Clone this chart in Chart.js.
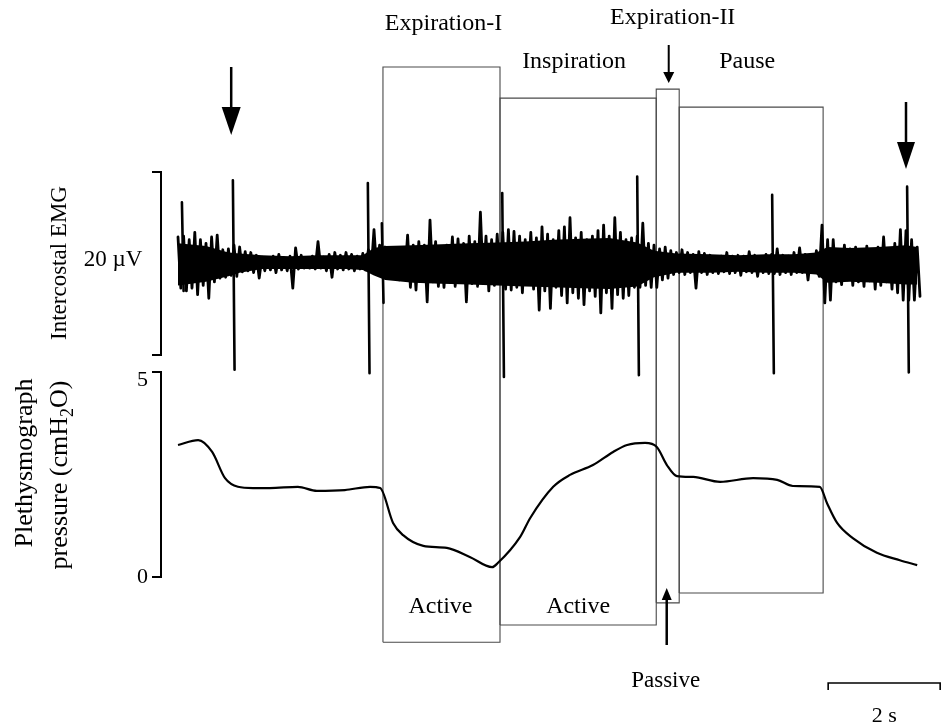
<!DOCTYPE html>
<html>
<head>
<meta charset="utf-8">
<script src="https://cdn.jsdelivr.net/npm/chart.js@4.4.1/dist/chart.umd.min.js"></script>
<style>
  html, body { margin: 0; padding: 0; background: #fff; }
  canvas { display: block; }
</style>
</head>
<body>
<canvas id="breathChart" width="944" height="725"></canvas>
<script>
// Intercostal EMG excursions, every 0.1 s (upper / lower tips, µV)
const EMG_STEP = 0.1;
const emgHigh = [
  2.9, 3.0, 2.6, 3.4, 2.6, 2.2, 2.9, 3.1, 1.5, 1.6,
  2.0, 1.8, 1.3, 1.2, 0.9, 0.7, 0.6, 0.8, 1.0, 0.6,
  0.8, 1.7, 0.9, 0.6, 0.8, 2.4, 0.7, 1.0, 1.2, 0.9,
  1.2, 1.0, 0.8, 1.1, 1.5, 3.7, 2.0, 1.8, 1.5, 1.5,
  1.3, 3.1, 2.0, 2.4, 2.0, 4.75, 2.4, 1.8, 2.0, 2.9,
  2.7, 2.2, 3.0, 2.4, 5.6, 3.0, 2.6, 3.2, 3.4, 3.7,
  3.5, 3.0, 2.6, 3.4, 2.8, 4.0, 3.2, 2.6, 3.6, 4.0,
  5.0, 2.8, 3.4, 2.6, 3.0, 3.6, 4.2, 3.0, 5.0, 3.4,
  2.6, 2.8, 3.0, 4.4, 2.2, 2.0, 1.6, 1.8, 1.4, 1.2,
  1.5, 1.2, 1.0, 1.3, 1.1, 0.9, 0.7, 0.8, 1.2, 0.8,
  0.9, 0.8, 1.3, 0.9, 0.7, 1.0, 1.0, 1.6, 0.9, 0.8,
  1.2, 1.7, 1.0, 0.9, 1.4, 4.2, 2.6, 2.6, 1.5, 2.0,
  1.6, 1.8, 1.4, 1.9, 1.5, 1.8, 2.9, 1.6, 2.2, 3.7,
  3.6, 2.6, 1.8
];
const emgLow = [
  -2.7, -3.0, -2.7, -3.4, -2.4, -3.8, -2.0, -1.6, -1.5, -1.3,
  -1.4, -0.9, -0.8, -1.0, -1.6, -0.8, -0.7, -1.0, -0.7, -0.8,
  -2.7, -0.6, -0.5, -0.5, -0.6, -0.5, -0.8, -1.5, -0.6, -0.7,
  -0.6, -0.8, -0.6, -0.7, -0.8, -1.0, -1.0, -1.5, -1.2, -1.8,
  -1.5, -2.6, -2.9, -1.8, -4.2, -2.0, -2.5, -2.6, -2.0, -2.5,
  -1.8, -4.2, -2.2, -2.5, -2.0, -3.0, -2.4, -2.0, -2.8, -2.9,
  -2.6, -3.2, -2.2, -2.8, -5.1, -3.0, -4.9, -2.6, -3.5, -4.3,
  -3.2, -3.8, -4.5, -3.0, -3.6, -5.4, -3.2, -4.9, -3.4, -3.8,
  -3.5, -2.6, -2.6, -2.4, -2.6, -2.6, -1.8, -1.6, -1.2, -1.0,
  -1.2, -1.0, -2.7, -1.0, -1.2, -1.0, -1.1, -0.9, -1.1, -1.0,
  -1.3, -0.9, -1.0, -1.4, -1.0, -1.1, -1.1, -1.2, -1.0, -1.2,
  -1.0, -1.0, -1.8, -1.0, -1.4, -4.3, -4.0, -2.0, -2.3, -1.8,
  -2.4, -2.0, -2.5, -1.9, -2.8, -2.4, -2.0, -2.8, -3.2, -4.0,
  -4.0, -4.0, -3.6
];

// solid core of the EMG band (s, µV)
const coreTime = [
  0, 0.5, 0.9, 1.1, 1.5, 2.0, 2.5, 3.0, 3.3, 3.5,
  3.7, 4.2, 4.7, 5.2, 5.7, 6.2, 6.7, 7.2, 7.7, 8.2,
  8.5, 8.9, 9.5, 10.0, 10.5, 11.0, 11.4, 11.6, 12.0, 12.5,
  13.0, 13.2
];
const coreHigh = [
  2.2, 1.9, 1.2, 1.1, 0.9, 0.8, 0.9, 0.9, 0.9, 1.7,
  1.9, 2.0, 2.1, 2.2, 2.3, 2.4, 2.6, 2.7, 2.8, 2.3,
  1.4, 1.1, 1.0, 0.9, 1.0, 1.0, 1.2, 1.8, 1.7, 1.8,
  2.0, 1.8
];
const coreLow = [
  -2.4, -2.0, -1.4, -1.0, -0.6, -0.6, -0.6, -0.6, -0.7, -1.3,
  -1.8, -2.1, -2.2, -2.3, -2.4, -2.5, -2.6, -2.7, -2.8, -2.5,
  -1.5, -1.0, -1.0, -0.9, -1.0, -1.0, -1.2, -2.1, -2.0, -2.1,
  -2.3, -2.3
];

// isolated EMG spikes (time s, peak and trough µV)
const spikeTime = [0.07, 0.98, 3.39, 3.64, 5.79, 8.20, 10.61, 13.02];
const spikeTop = [6.7, 9.1, 8.8, 4.4, 7.7, 9.5, 7.5, 8.4];
const spikeBottom = [-3.0, -11.6, -12.0, -4.3, -12.4, -12.2, -12.0, -11.9];

// Plethysmograph pressure (cmH2O) against time (s)
const pressTime = [
  0, 0.36, 0.61, 0.84, 1.07, 1.34, 1.64, 2.14, 2.48, 2.98,
  3.43, 3.61, 3.84, 4.02, 4.38, 4.80, 5.21, 5.61, 5.71, 6.11,
  6.29, 6.70, 7.00, 7.41, 7.77, 8.02, 8.34, 8.55, 8.73, 8.91,
  9.20, 9.68, 10.27, 10.70, 10.98, 11.46, 11.59, 11.77, 12.05, 12.48,
  12.89, 13.20
];
const pressValue = [
  3.22, 3.34, 3.05, 2.41, 2.20, 2.17, 2.17, 2.20, 2.10, 2.12,
  2.20, 2.17, 1.32, 1.02, 0.76, 0.71, 0.49, 0.24, 0.34, 0.98,
  1.44, 2.20, 2.49, 2.73, 3.05, 3.22, 3.27, 3.17, 2.73, 2.46,
  2.44, 2.32, 2.41, 2.37, 2.22, 2.20, 1.80, 1.32, 0.95, 0.59,
  0.41, 0.29
];

// Phase windows (s) and their frame extents (in cmH2O units of the lower trace)
const phaseNames = ['Expiration-I', 'Inspiration', 'Expiration-II', 'Pause'];
const phaseStart = [3.66, 5.75, 8.54, 8.95];
const phaseEnd = [5.75, 8.54, 8.95, 11.52];
const phaseTop = [12.44, 11.68, 11.90, 11.46];
const phaseBottom = [-1.59, -1.17, -0.63, -0.39];
const phaseMode = ['Active', 'Active', 'Passive', ''];

// markers above the EMG (s)
const markerTimes = [0.95, 13.0];

// 2 s calibration bar (s)
const timeBar = [11.61, 13.61];

// ---- layout (pixels) ----
const W = 944, H = 725;
const X_ORIGIN = 178, PX_PER_S = 56;
const P_ZERO = 577, PX_PER_CM = 41;
const E_ZERO = 263.5, PX_PER_UV = 9.15;
const AXIS_X = 161;
const SERIF = '"Liberation Serif", "DejaVu Serif", serif';

// zig-zag between upper and lower tips
const emgPoints = [];
emgHigh.forEach((hi, k) => {
  emgPoints.push({ x: k * EMG_STEP, y: hi });
  emgPoints.push({ x: k * EMG_STEP + EMG_STEP / 2, y: emgLow[k] });
});

const coreUpper = coreTime.map((t, i) => ({ x: t, y: coreHigh[i] }));
const coreLower = coreTime.map((t, i) => ({ x: t, y: coreLow[i] }));

// each spike: a thin up-down stroke, separated by gaps
const spikePoints = [];
spikeTime.forEach((t, i) => {
  spikePoints.push({ x: t, y: spikeTop[i] });
  spikePoints.push({ x: t + 0.03, y: spikeBottom[i] });
  spikePoints.push({ x: t + 0.04, y: null });
});

const pressPoints = pressTime.map((t, i) => ({ x: t, y: pressValue[i] }));

const boxDatasets = phaseStart.map((s, i) => ({
  label: phaseNames[i],
  yAxisID: 'yP',
  data: [
    { x: s, y: phaseBottom[i] },
    { x: s, y: phaseTop[i] },
    { x: phaseEnd[i], y: phaseTop[i] },
    { x: phaseEnd[i], y: phaseBottom[i] },
    { x: s, y: phaseBottom[i] }
  ],
  borderColor: '#4a4a4a',
  borderWidth: 1.1,
  pointRadius: 0,
  tension: 0,
  fill: false,
  order: 5
}));

function font(size) {
  return size + 'px ' + SERIF;
}

function arrow(ctx, x, yTail, yTip, headLen, halfW, shaftW) {
  const dir = yTip > yTail ? 1 : -1;
  ctx.lineWidth = shaftW;
  ctx.beginPath();
  ctx.moveTo(x, yTail);
  ctx.lineTo(x, yTip - dir * headLen);
  ctx.stroke();
  ctx.beginPath();
  ctx.moveTo(x, yTip);
  ctx.lineTo(x - halfW, yTip - dir * headLen);
  ctx.lineTo(x + halfW, yTip - dir * headLen);
  ctx.closePath();
  ctx.fill();
}

function bracket(ctx, x, yTop, yBottom) {
  ctx.lineWidth = 2;
  ctx.beginPath();
  ctx.moveTo(x - 9, yTop);
  ctx.lineTo(x, yTop);
  ctx.lineTo(x, yBottom);
  ctx.lineTo(x - 9, yBottom);
  ctx.stroke();
}

// rotated text (reads bottom to top); parts may carry a subscript
function verticalText(ctx, parts, cx, cy, size) {
  ctx.save();
  ctx.translate(cx, cy);
  ctx.rotate(-Math.PI / 2);
  ctx.textBaseline = 'middle';
  ctx.textAlign = 'left';
  let total = 0;
  parts.forEach(p => {
    ctx.font = font(p.sub ? Math.round(size * 0.7) : size);
    total += ctx.measureText(p.text).width;
  });
  let pos = -total / 2;
  parts.forEach(p => {
    ctx.font = font(p.sub ? Math.round(size * 0.7) : size);
    ctx.fillText(p.text, pos, p.sub ? size * 0.3 : 0);
    pos += ctx.measureText(p.text).width;
  });
  ctx.restore();
}

const overlay = {
  id: 'overlay',
  afterDatasetsDraw(chart) {
    const { ctx } = chart;
    const x = chart.scales.x, yE = chart.scales.yE, yP = chart.scales.yP;
    const mid = i => x.getPixelForValue((phaseStart[i] + phaseEnd[i]) / 2);
    ctx.save();
    ctx.strokeStyle = '#000';
    ctx.fillStyle = '#000';

    // scale brackets on the left
    bracket(ctx, AXIS_X, yE.getPixelForValue(10), yE.getPixelForValue(-10));
    bracket(ctx, AXIS_X, yP.getPixelForValue(5), yP.getPixelForValue(0));

    ctx.font = font(22);
    ctx.textAlign = 'right';
    ctx.textBaseline = 'alphabetic';
    ctx.fillText('5', 148, yP.getPixelForValue(5) + 14);
    ctx.fillText('0', 148, yP.getPixelForValue(0) + 6);
    ctx.textAlign = 'center';
    ctx.font = font(23);
    ctx.fillText('20 \u00B5V', 113, 266);

    verticalText(ctx, [{ text: 'Intercostal EMG' }], 60, 263, 23);
    verticalText(ctx, [{ text: 'Plethysmograph' }], 25, 463, 26);
    verticalText(ctx, [
      { text: 'pressure (cmH' }, { text: '2', sub: true }, { text: 'O)' }
    ], 60, 475, 26);

    // phase labels
    ctx.font = font(24);
    ctx.textAlign = 'center';
    ctx.fillText(phaseNames[0], mid(0) + 2, 30);
    ctx.fillText(phaseNames[2], mid(2) + 5, 24);
    ctx.fillText(phaseNames[1], mid(1) - 4, 68);
    ctx.fillText(phaseNames[3], mid(3) - 4, 68);
    ctx.fillText(phaseMode[0], mid(0) - 1, 613);
    ctx.fillText(phaseMode[1], mid(1), 613);
    ctx.font = font(23);
    ctx.fillText(phaseMode[2], mid(2) - 2, 687);

    // arrows
    arrow(ctx, x.getPixelForValue(markerTimes[0]), 67, 135, 28, 9.5, 2.5);
    arrow(ctx, x.getPixelForValue(markerTimes[1]), 102, 169, 27, 9, 2.5);
    arrow(ctx, mid(2) + 1, 45, 83, 11, 5.5, 2);
    arrow(ctx, mid(2) - 1, 645, 588, 12, 5, 2.5);

    // 2 s time bar
    const bx0 = x.getPixelForValue(timeBar[0]), bx1 = x.getPixelForValue(timeBar[1]);
    ctx.lineWidth = 1.6;
    ctx.beginPath();
    ctx.moveTo(bx0, 690);
    ctx.lineTo(bx0, 683);
    ctx.lineTo(bx1, 683);
    ctx.lineTo(bx1, 690);
    ctx.stroke();
    ctx.font = font(22);
    ctx.fillText('2 s', (bx0 + bx1) / 2, 722);
    ctx.restore();
  }
};

new Chart(document.getElementById('breathChart'), {
  type: 'line',
  data: {
    datasets: [
      {
        label: 'EMG core upper',
        yAxisID: 'yE',
        data: coreUpper,
        borderWidth: 0,
        pointRadius: 0,
        tension: 0,
        fill: false,
        order: 2
      },
      {
        label: 'EMG core lower',
        yAxisID: 'yE',
        data: coreLower,
        borderWidth: 0,
        backgroundColor: '#000',
        pointRadius: 0,
        tension: 0,
        fill: '-1',
        order: 2
      },
      {
        label: 'Intercostal EMG',
        yAxisID: 'yE',
        data: emgPoints,
        borderColor: '#000',
        borderWidth: 2.8,
        borderJoinStyle: 'round',
        borderCapStyle: 'round',
        pointRadius: 0,
        tension: 0,
        order: 1
      },
      {
        label: 'EMG spikes',
        yAxisID: 'yE',
        data: spikePoints,
        borderColor: '#000',
        borderWidth: 2.6,
        borderCapStyle: 'round',
        pointRadius: 0,
        tension: 0,
        spanGaps: false,
        order: 0
      },
      {
        label: 'Plethysmograph pressure',
        yAxisID: 'yP',
        data: pressPoints,
        borderColor: '#000',
        borderWidth: 2.2,
        pointRadius: 0,
        cubicInterpolationMode: 'monotone',
        order: 0
      },
      ...boxDatasets
    ]
  },
  options: {
    responsive: false,
    animation: false,
    layout: { padding: 0 },
    plugins: { legend: { display: false }, tooltip: { enabled: false } },
    scales: {
      x: {
        type: 'linear',
        display: false,
        min: -X_ORIGIN / PX_PER_S,
        max: (W - X_ORIGIN) / PX_PER_S
      },
      yE: {
        type: 'linear',
        display: false,
        min: -(H - E_ZERO) / PX_PER_UV,
        max: E_ZERO / PX_PER_UV
      },
      yP: {
        type: 'linear',
        display: false,
        min: -(H - P_ZERO) / PX_PER_CM,
        max: P_ZERO / PX_PER_CM
      }
    }
  },
  plugins: [overlay]
});
</script>
</body>
</html>
